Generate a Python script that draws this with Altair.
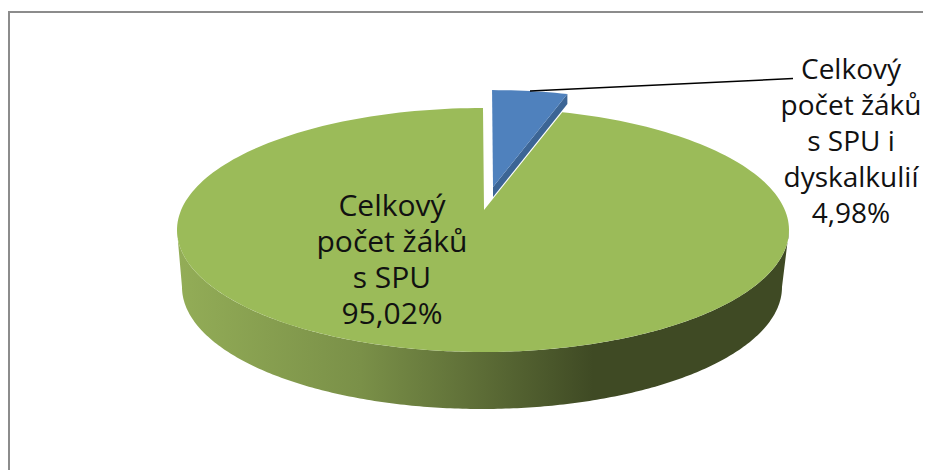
import math
import altair as alt
import pandas as pd

categories = ["Celkový počet žáků s SPU", "Celkový počet žáků s SPU i dyskalkulií"]
shares = [95.02, 4.98]
label_lines = [
    ["Celkový", "počet žáků", "s SPU", "95,02%"],
    ["Celkový", "počet žáků", "s SPU i", "dyskalkulií", "4,98%"],
]

# layout of the tilted pie, in picture pixels
CX, CY, RX, RY = 483.0, 230.0, 306.0, 122.0
APEX = (484.0, 210.0)
B_CX, B_CY, B_RX, B_RY = 482.0, 287.0, 300.0, 122.0
BLUE_APEX = (493.0, 187.0)
BLUE_SCALE = 0.95
BLUE_DEPTH = 10.0
TILT = 0.165
SAMPLES = 240


def warp(share_from_top):
    th = 2 * math.pi * share_from_top / 100.0
    return th - TILT * math.sin(th)


def rim(t, cx=CX, cy=CY, rx=RX, ry=RY):
    return cx + rx * math.sin(t), cy - ry * math.cos(t)


def table(points):
    return pd.DataFrame({"x": [p[0] for p in points], "y": [p[1] for p in points], "i": range(len(points))})


blue_end = warp(shares[1])
green_pts = [APEX] + [rim(blue_end + (2 * math.pi - blue_end) * k / SAMPLES) for k in range(SAMPLES + 1)]

blue_rim = [rim(blue_end * k / 12) for k in range(13)]
blue_pts = [BLUE_APEX] + [
    (BLUE_APEX[0] + BLUE_SCALE * (px - APEX[0]), BLUE_APEX[1] + BLUE_SCALE * (py - APEX[1])) for px, py in blue_rim
]
blue_side = [blue_pts[0], blue_pts[-1], (blue_pts[-1][0], blue_pts[-1][1] + BLUE_DEPTH),
             (blue_pts[0][0], blue_pts[0][1] + BLUE_DEPTH)]

upper = [rim(math.pi / 2 + math.pi * k / SAMPLES) for k in range(SAMPLES + 1)]
lower = [rim(3 * math.pi / 2 - math.pi * k / SAMPLES, B_CX, B_CY, B_RX, B_RY) for k in range(SAMPLES + 1)]
side_pts = upper + lower

PW, PH = 915, 462
X = alt.X("x:Q", scale=alt.Scale(domain=[8, 8 + PW], range=[0, PW]), axis=None)
Y = alt.Y("y:Q", scale=alt.Scale(domain=[8, 8 + PH], range=[0, PH]), axis=None)


def poly(points, fill):
    return alt.Chart(table(points)).mark_line(fill=fill, strokeWidth=0, interpolate="linear").encode(
        x=X, y=Y, order="i:Q"
    )


side_fill = alt.Gradient(
    gradient="linear", x1=0, x2=1, y1=0, y2=0,
    stops=[
        alt.GradientStop(offset=0.0, color="#93AD57"),
        alt.GradientStop(offset=0.3, color="#7A9048"),
        alt.GradientStop(offset=0.5, color="#5C6C36"),
        alt.GradientStop(offset=0.68, color="#3F4A24"),
        alt.GradientStop(offset=1.0, color="#3F4A24"),
    ],
)

side = poly(side_pts, side_fill)
blue_dark = poly(blue_side, "#3C6595")
blue_top = poly(blue_pts, "#4F81BD")
green_top = poly(green_pts, "#9BBB59")

frame = alt.Chart(table([(9, 8 + PH), (9, 12), (8 + PW, 12)])).mark_line(color="#8C8C8C", strokeWidth=2).encode(
    x=X, y=Y, order="i:Q"
)
leader = alt.Chart(table([(530, 91), (793, 78.5)])).mark_line(color="#000000", strokeWidth=1.5).encode(
    x=X, y=Y, order="i:Q"
)

labels_left = pd.DataFrame({"x": [392], "y": [207], "t": ["\n".join(label_lines[0])], "cat": categories[:1]})
labels_right = pd.DataFrame({"x": [851], "y": [71], "t": ["\n".join(label_lines[1])], "cat": categories[1:]})


def label(df, size):
    return alt.Chart(df).mark_text(
        font="Open Sans", fontSize=size, color="#111111", align="center", baseline="middle",
        lineBreak="\n", lineHeight=36
    ).encode(x=X, y=Y, text="t:N")


chart = alt.layer(
    frame, side, blue_dark, blue_top, green_top, leader, label(labels_left, 30), label(labels_right, 28)
).properties(
    width=PW, height=PH, padding=0, autosize=alt.AutoSizeParams(type="none"), background="#FFFFFF"
).configure_view(stroke=None)

chart.save("out.html", embed_options={"renderer": "svg", "actions": False})
